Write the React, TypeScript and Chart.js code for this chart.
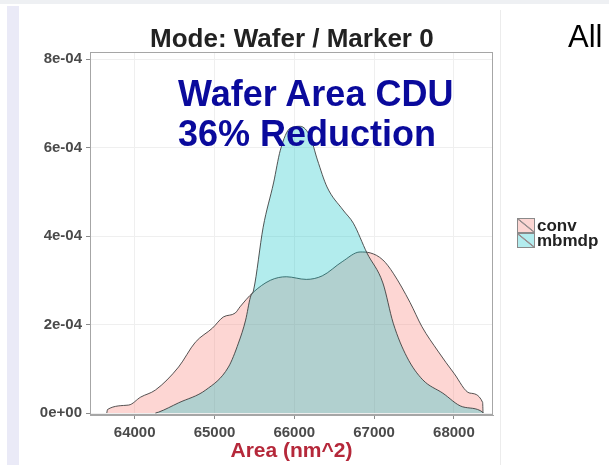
import React, { useEffect, useRef } from "react";
import { Chart, registerables } from "chart.js";

Chart.register(...registerables);

// Density curves: x = area (nm^2), y = density
const convX = [63650, 63660, 63925, 64075, 64260, 64550, 64760, 64975, 65110, 65260, 65320, 65480, 65700, 65900, 66150, 66350, 66600, 66825, 66950, 67110, 67240, 67450, 67600, 67800, 68000, 68200, 68360, 68365];
const convY = [0, 0.08e-4, 0.18e-4, 0.36e-4, 0.52e-4, 1.04e-4, 1.6e-4, 1.92e-4, 2.17e-4, 2.26e-4, 2.4e-4, 2.72e-4, 3.0e-4, 3.08e-4, 3.02e-4, 3.1e-4, 3.42e-4, 3.64e-4, 3.62e-4, 3.46e-4, 3.16e-4, 2.5e-4, 1.95e-4, 1.4e-4, 0.9e-4, 0.45e-4, 0.24e-4, 0];

const mbmdpX = [64260, 64300, 64550, 64890, 65175, 65300, 65390, 65450, 65490, 65610, 65740, 65825, 65950, 66075, 66200, 66290, 66410, 66610, 66740, 66910, 67110, 67240, 67410, 67610, 67860, 68110, 68360, 68365];
const mbmdpY = [0, 0.02e-4, 0.23e-4, 0.52e-4, 1.04e-4, 1.58e-4, 2.1e-4, 2.62e-4, 2.78e-4, 4.2e-4, 5.2e-4, 5.94e-4, 6.44e-4, 6.48e-4, 6.24e-4, 5.72e-4, 5.11e-4, 4.59e-4, 4.29e-4, 3.62e-4, 2.94e-4, 2.03e-4, 1.27e-4, 0.75e-4, 0.45e-4, 0.14e-4, 0.02e-4, 0];

const seriesNames = ["conv", "mbmdp"];
const xTicks = [64000, 65000, 66000, 67000, 68000];
const yTicks = [0, 2e-4, 4e-4, 6e-4, 8e-4];

const titleText = "Mode: Wafer / Marker 0";
const xTitle = "Area (nm^2)";
const noteLines = ["Wafer Area CDU", "36% Reduction"];
const cornerText = "All";

const fillColors = ["rgba(248,118,109,0.3)", "rgba(0,191,196,0.3)"];
const keyColors = ["#fcd6d3", "#b3ecee"];

function fmtSci(v: number): string {
  const [m, e] = v.toExponential(0).split("e");
  const sign = e[0] === "-" ? "-" : "+";
  const digits = e.replace(/[+-]/, "").padStart(2, "0");
  return `${m}e${sign}${digits}`;
}

const panelBorder = {
  id: "panelBorder",
  afterDraw(chart: any) {
    const { ctx, chartArea } = chart;
    ctx.save();
    ctx.strokeStyle = "#a6a6a6";
    ctx.lineWidth = 1;
    ctx.strokeRect(
      Math.round(chartArea.left) + 0.5,
      Math.round(chartArea.top) + 0.5,
      Math.round(chartArea.right - chartArea.left) - 1,
      Math.round(chartArea.bottom - chartArea.top) - 1
    );
    ctx.restore();
  },
};

export default function App() {
  const canvasRef = useRef<HTMLCanvasElement | null>(null);

  useEffect(() => {
    if (!canvasRef.current) return;
    const mk = (xs: number[], ys: number[]) => xs.map((x, i) => ({ x, y: ys[i] }));
    const tickFont = { family: "Liberation Sans, Arial, sans-serif", size: 15, weight: "bold" as const };
    const chart = new Chart(canvasRef.current, {
      type: "line",
      data: {
        datasets: [
          {
            label: seriesNames[0],
            data: mk(convX, convY),
            backgroundColor: fillColors[0],
            borderColor: "rgba(55,55,55,0.85)",
            borderWidth: 1,
            fill: "origin",
            pointRadius: 0,
            cubicInterpolationMode: "monotone",
            order: 2,
          },
          {
            label: seriesNames[1],
            data: mk(mbmdpX, mbmdpY),
            backgroundColor: fillColors[1],
            borderColor: "rgba(55,55,55,0.85)",
            borderWidth: 1,
            fill: "origin",
            pointRadius: 0,
            cubicInterpolationMode: "monotone",
            order: 1,
          },
        ],
      },
      options: {
        responsive: false,
        animation: false,
        devicePixelRatio: 1,
        layout: { padding: { top: 52, right: 116, bottom: 0, left: 0 } },
        plugins: {
          legend: { display: false },
          title: { display: false },
          tooltip: { enabled: false },
        },
        scales: {
          x: {
            type: "linear",
            min: 63440,
            max: 68490,
            afterFit: (s: any) => {
              s.height = 50;
            },
            afterBuildTicks: (s: any) => {
              s.ticks = xTicks.map((v) => ({ value: v }));
            },
            grid: { color: "#efefef", tickColor: "#8a8a8a", tickLength: 4 },
            border: { display: true, color: "#a6a6a6" },
            ticks: {
              padding: 5,
              maxRotation: 0,
              color: "#4a4a4a",
              font: tickFont,
              callback: (v: any) => String(v),
            },
            title: {
              display: true,
              text: xTitle,
              color: "#b5283a",
              font: { family: "Liberation Sans, Arial, sans-serif", size: 21, weight: "bold" },
              padding: { top: 0, bottom: 1 },
            },
          },
          y: {
            type: "linear",
            min: -0.045e-4,
            max: 8.16e-4,
            afterFit: (s: any) => {
              s.width = 90;
            },
            afterBuildTicks: (s: any) => {
              s.ticks = yTicks.map((v) => ({ value: v }));
            },
            grid: { color: "#efefef", tickColor: "#8a8a8a", tickLength: 4 },
            border: { display: true, color: "#a6a6a6" },
            ticks: {
              padding: 4,
              color: "#4a4a4a",
              font: tickFont,
              callback: (v: any) => fmtSci(Number(v)),
            },
          },
        },
      },
      plugins: [panelBorder],
    });
    return () => chart.destroy();
  }, []);

  const font = "Liberation Sans, Arial, sans-serif";

  return (
    <div
      style={{
        position: "fixed",
        left: 0,
        top: 0,
        width: 609,
        height: 465,
        background: "#ffffff",
        overflow: "hidden",
        fontFamily: font,
      }}
    >
      <div style={{ position: "absolute", left: 0, top: 0, width: 609, height: 4, background: "#eef0f3" }} />
      <div style={{ position: "absolute", left: 7, top: 6, width: 12, height: 459, background: "#eaeaf7" }} />
      <div style={{ position: "absolute", left: 500, top: 10, width: 1, height: 455, background: "#ececec" }} />
      <canvas ref={canvasRef} width={609} height={465} style={{ position: "absolute", left: 0, top: 0, display: "block" }} />
      <div
        style={{
          position: "absolute",
          left: 150,
          top: 25,
          fontSize: 26,
          lineHeight: "26px",
          fontWeight: "bold",
          color: "#222",
          whiteSpace: "nowrap",
        }}
      >
        {titleText}
      </div>
      <div
        style={{
          position: "absolute",
          left: 568,
          top: 21,
          fontSize: 31,
          lineHeight: "31px",
          color: "#000",
          whiteSpace: "nowrap",
        }}
      >
        {cornerText}
      </div>
      <div
        style={{
          position: "absolute",
          left: 178,
          top: 74,
          fontSize: 36,
          lineHeight: "40px",
          fontWeight: "bold",
          color: "#0a0a9c",
          whiteSpace: "nowrap",
        }}
      >
        {noteLines.map((t) => (
          <div key={t}>{t}</div>
        ))}
      </div>
      <div style={{ position: "absolute", left: 517, top: 218 }}>
        {seriesNames.map((n, i) => (
          <div key={n} style={{ display: "flex", alignItems: "center", height: 15 }}>
            <div
              style={{
                width: 16,
                height: 13,
                border: "1px solid #8a8a8a",
                background: `linear-gradient(to top right, ${keyColors[i]} 45%, #9a8f90 48%, #9a8f90 52%, ${keyColors[i]} 55%)`,
                marginRight: 2,
              }}
            />
            <span style={{ fontSize: 17, lineHeight: "15px", fontWeight: "bold", color: "#222" }}>{n}</span>
          </div>
        ))}
      </div>
    </div>
  );
}
